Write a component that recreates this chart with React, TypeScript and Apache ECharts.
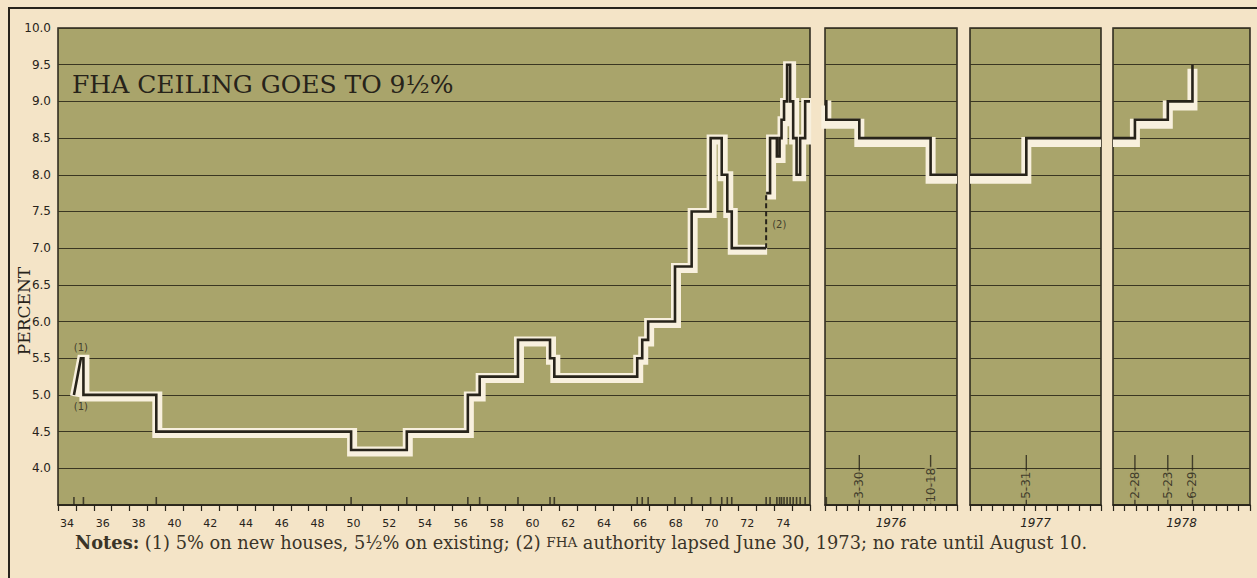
import React, { useEffect, useRef } from "react";
import * as echarts from "echarts";

// ---------------- data ----------------
const yearLabels = ["34","35","36","37","38","39","40","41","42","43","44","45","46","47","48","49","50","51","52","53","54","55","56","57","58","59","60","61","62","63","64","65","66","67","68","69","70","71","72","73","74","75"];
const monthLabels = ["Jan","Feb","Mar","Apr","May","Jun","Jul","Aug","Sep","Oct","Nov","Dec"];
const panelYears = ["1976", "1977", "1978"];

// 1934: 5% new houses ramping to 5.5% existing (note 1)
const rampDates = [1934.89, 1935.28];
const rampRates = [5.0, 5.5];
// main period step changes: date (fractional year) -> new ceiling rate
const mainDates = [1935.42, 1939.49, 1950.37, 1953.48, 1956.89, 1957.55, 1959.69, 1961.48, 1961.72, 1966.35, 1966.63, 1966.96, 1968.46, 1969.39, 1970.45, 1971.07, 1971.38, 1971.63, 1973.55, 1973.77, 1974.15, 1974.3, 1974.41, 1974.55, 1974.72, 1974.89, 1975.06, 1975.25, 1975.45, 1975.73];
const mainRates = [5.0, 4.5, 4.25, 4.5, 5.0, 5.25, 5.75, 5.5, 5.25, 5.5, 5.75, 6.0, 6.75, 7.5, 8.5, 8.0, 7.5, 7.0, 7.75, 8.5, 8.25, 8.5, 8.75, 9.0, 9.5, 9.0, 8.5, 8.0, 8.5, 9.0];
const lapseDate = 1973.55; // authority lapsed, no rate (note 2)

const startRates = [9.0, 8.0, 8.5];
const dates1976 = [1976.01, 1976.26, 1976.8];
const rates1976 = [8.75, 8.5, 8.0];
const marks1976 = ["", "3-30", "10-18"];
const dates1977 = [1977.43];
const rates1977 = [8.5];
const marks1977 = ["5-31"];
const dates1978 = [1978.16, 1978.4, 1978.58];
const rates1978 = [8.75, 9.0, 9.5];
const marks1978 = ["2-28", "5-23", "6-29"];

// annotations: [x, y, text]
const noteAnchorsX = [1935.28, 1935.28, 1974.28];
const noteAnchorsY = [5.64, 4.84, 7.32];
const noteTexts = ["(1)", "(1)", "(2)"];

// ---------------- style ----------------
const DARK = "#27231a";
const OLIVE = "#a9a46b";
const CREAM = "#f4e4c7";
const BAND = "#f8f0de";
const HAND = "DejaVu Sans";

const TOP = 28;
const H = 477;
const panels = [
  { left: 58, width: 752, min: 1934, max: 1976 },
  { left: 825, width: 132, min: 1976, max: 1977 },
  { left: 970, width: 131, min: 1977, max: 1978 },
  { left: 1113, width: 137, min: 1978, max: 1979 },
];
const bandShift = [[1, 1.5], [0, 4], [0, 4], [0, 4]];

function steps(x0: number, r0: number, dates: number[], rates: number[], xEnd: number | null, lapse?: number) {
  const out: any[] = [[x0, r0]];
  let prev = r0;
  for (let i = 0; i < dates.length; i++) {
    const d = dates[i];
    out.push([d, prev]);
    if (lapse !== undefined && d === lapse) out.push([d, "-"]);
    out.push([d, rates[i]]);
    prev = rates[i];
  }
  if (xEnd !== null) out.push([xEnd, prev]);
  return out;
}

function buildOption() {
  const mainData = [[rampDates[0], rampRates[0]], ...steps(rampDates[1], rampRates[1], mainDates, mainRates, 1976, lapseDate)];
  const li = mainDates.indexOf(lapseDate);
  const dashed = [[lapseDate, mainRates[li - 1]], [lapseDate, mainRates[li]]];
  const panelData = [
    mainData,
    steps(1976, startRates[0], dates1976, rates1976, 1977),
    steps(1977, startRates[1], dates1977, rates1977, 1978),
    steps(1978, startRates[2], dates1978, rates1978, null),
  ];
  const panelMarks = [
    { dates: [] as number[], marks: [] as string[] },
    { dates: dates1976, marks: marks1976 },
    { dates: dates1977, marks: marks1977 },
    { dates: dates1978, marks: marks1978 },
  ];

  const grid: any[] = [];
  panels.forEach((p) =>
    grid.push({ left: p.left, top: TOP, width: p.width, height: H, show: true, backgroundColor: OLIVE, borderColor: DARK, borderWidth: 1.5 })
  );
  panels.forEach((p, i) =>
    grid.push({ left: p.left + bandShift[i][0], top: TOP + bandShift[i][1], width: p.width, height: H, show: false })
  );

  const xAxis: any[] = [];
  panels.forEach((p, i) => xAxis.push({ gridIndex: i, type: "value", min: p.min, max: p.max, show: false, position: "top" }));
  xAxis.push({
    gridIndex: 0, type: "category", data: yearLabels, boundaryGap: true, position: "bottom",
    axisLine: { show: true, lineStyle: { color: DARK, width: 1.5 } },
    axisTick: { show: true, interval: 0, length: 6, lineStyle: { color: DARK, width: 1.2 } },
    axisLabel: { interval: 1, margin: 13, fontSize: 11, fontFamily: HAND, color: DARK },
    splitLine: { show: false },
  });
  panelYears.forEach((y, k) =>
    xAxis.push({
      gridIndex: k + 1, type: "category", data: monthLabels, boundaryGap: true, position: "bottom",
      axisLine: { show: true, lineStyle: { color: DARK, width: 1.5 } },
      axisTick: { show: true, interval: 0, length: 6, lineStyle: { color: DARK, width: 1.2 } },
      axisLabel: { show: false },
      splitLine: { show: false },
      name: y, nameLocation: "middle", nameGap: 12,
      nameTextStyle: { fontSize: 12, fontFamily: HAND, fontStyle: "italic", color: DARK },
    })
  );
  panels.forEach((p, i) => xAxis.push({ gridIndex: i + 4, type: "value", min: p.min, max: p.max, show: false }));

  const yAxis: any[] = [];
  panels.forEach((p, i) =>
    yAxis.push({
      gridIndex: i, type: "value", min: 3.5, max: 10, interval: 0.5,
      axisLine: { show: false }, axisTick: { show: false },
      splitLine: { show: true, lineStyle: { color: "#3a3622", width: 1 } },
      axisLabel: i === 0
        ? { show: true, margin: 7, fontSize: 12, fontFamily: HAND, color: DARK, formatter: (v: number) => (v < 3.9 ? "" : v.toFixed(1)) }
        : { show: false },
    })
  );
  panels.forEach((p, i) => yAxis.push({ gridIndex: i + 4, type: "value", min: 3.5, max: 10, show: false }));

  const series: any[] = [];
  panelData.forEach((d, i) => {
    series.push({
      type: "line", xAxisIndex: i + 8, yAxisIndex: i + 4, data: d, symbol: "none", silent: true, z: 2,
      lineStyle: { color: BAND, width: 10, join: "miter", cap: "butt" },
    });
  });
  panelData.forEach((d, i) => {
    series.push({
      type: "line", xAxisIndex: i, yAxisIndex: i, data: d, symbol: "none", silent: true, z: 4,
      lineStyle: { color: DARK, width: 2.6, join: "miter", cap: "butt" },
    });
  });
  series.push({
    type: "line", xAxisIndex: 0, yAxisIndex: 0, data: dashed, symbol: "none", silent: true, z: 4,
    lineStyle: { color: DARK, width: 2, type: [5, 3] },
  });
  // change ticks on main axis
  series.push({
    type: "scatter", xAxisIndex: 0, yAxisIndex: 0, symbol: "rect", symbolSize: [1.6, 8], symbolOffset: [0, -4],
    data: [rampDates[0], ...mainDates].map((d) => [d, 3.5]), itemStyle: { color: DARK }, silent: true, z: 5,
  });
  // date markers on small panels
  panelMarks.forEach((pm, i) => {
    if (!pm.dates.length) return;
    const small = pm.dates.filter((_, j) => !pm.marks[j]);
    const big = pm.dates.filter((_, j) => !!pm.marks[j]);
    if (small.length)
      series.push({
        type: "scatter", xAxisIndex: i, yAxisIndex: i, symbol: "rect", symbolSize: [1.6, 8], symbolOffset: [0, -4],
        data: small.map((d) => [d, 3.5]), itemStyle: { color: DARK }, silent: true, z: 5,
      });
    series.push({
      type: "scatter", xAxisIndex: i, yAxisIndex: i, symbol: "rect", symbolSize: [1.4, 50], symbolOffset: [0, -25],
      data: big.map((d) => [d, 3.5]), itemStyle: { color: DARK }, silent: true, z: 5,
    });
    series.push({
      type: "scatter", xAxisIndex: i, yAxisIndex: i, symbolSize: 1, itemStyle: { color: "transparent" }, silent: true, z: 6,
      data: pm.dates
        .map((d, j) => ({ value: [d, 3.77], name: pm.marks[j] }))
        .filter((o) => !!o.name),
      label: {
        show: true, position: "inside", rotate: 90, formatter: (p: any) => p.name,
        fontSize: 12, fontFamily: HAND, color: DARK, backgroundColor: OLIVE, padding: [0, 1],
      },
    });
  });
  // annotations (1), (2)
  series.push({
    type: "scatter", xAxisIndex: 0, yAxisIndex: 0, symbolSize: 1, itemStyle: { color: "transparent" }, silent: true, z: 6,
    data: noteTexts.map((t, j) => ({ value: [noteAnchorsX[j], noteAnchorsY[j]], name: t })),
    label: { show: true, position: "inside", formatter: (p: any) => p.name, fontSize: 10, fontFamily: HAND, color: DARK },
  });

  const graphic: any[] = [
    { type: "line", shape: { x1: 8, y1: 8, x2: 1257, y2: 8 }, style: { stroke: DARK, lineWidth: 2 }, silent: true },
    { type: "line", shape: { x1: 9, y1: 8, x2: 9, y2: 578 }, style: { stroke: DARK, lineWidth: 2 }, silent: true },
    {
      type: "text", x: 72, y: 84, z: 10,
      style: { text: "FHA CEILING GOES TO 9½%", fontFamily: "DejaVu Serif", fontSize: 25, fill: DARK, verticalAlign: "middle", align: "left" },
    },
    {
      type: "text", x: 24, y: 311, rotation: Math.PI / 2, z: 10,
      style: { text: "PERCENT", fontFamily: "DejaVu Serif", fontSize: 17, fill: DARK, align: "center", verticalAlign: "middle" },
    },
    {
      type: "text", x: 75, y: 542, z: 10,
      style: {
        text: "{b|Notes:} (1) 5% on new houses, 5½% on existing; (2) {s|FHA} authority lapsed June 30, 1973; no rate until August 10.",
        fontFamily: "DejaVu Serif", fontSize: 17.8, fill: "#3a3428", verticalAlign: "middle", align: "left",
        rich: {
          b: { fontFamily: "DejaVu Serif", fontSize: 17.8, fontWeight: "bold", fill: "#3a3428" },
          s: { fontFamily: "DejaVu Serif", fontSize: 13.5, fill: "#3a3428" },
        },
      },
    },
  ];

  return { animation: false, backgroundColor: CREAM, grid, xAxis, yAxis, series, graphic };
}

export default function App() {
  const ref = useRef<HTMLDivElement>(null);
  useEffect(() => {
    document.body.style.margin = "0";
    if (!ref.current) return;
    const chart = echarts.init(ref.current, null, { renderer: "svg" });
    chart.setOption(buildOption() as any);
    return () => chart.dispose();
  }, []);
  return <div ref={ref} style={{ width: 1257, height: 578 }} />;
}
